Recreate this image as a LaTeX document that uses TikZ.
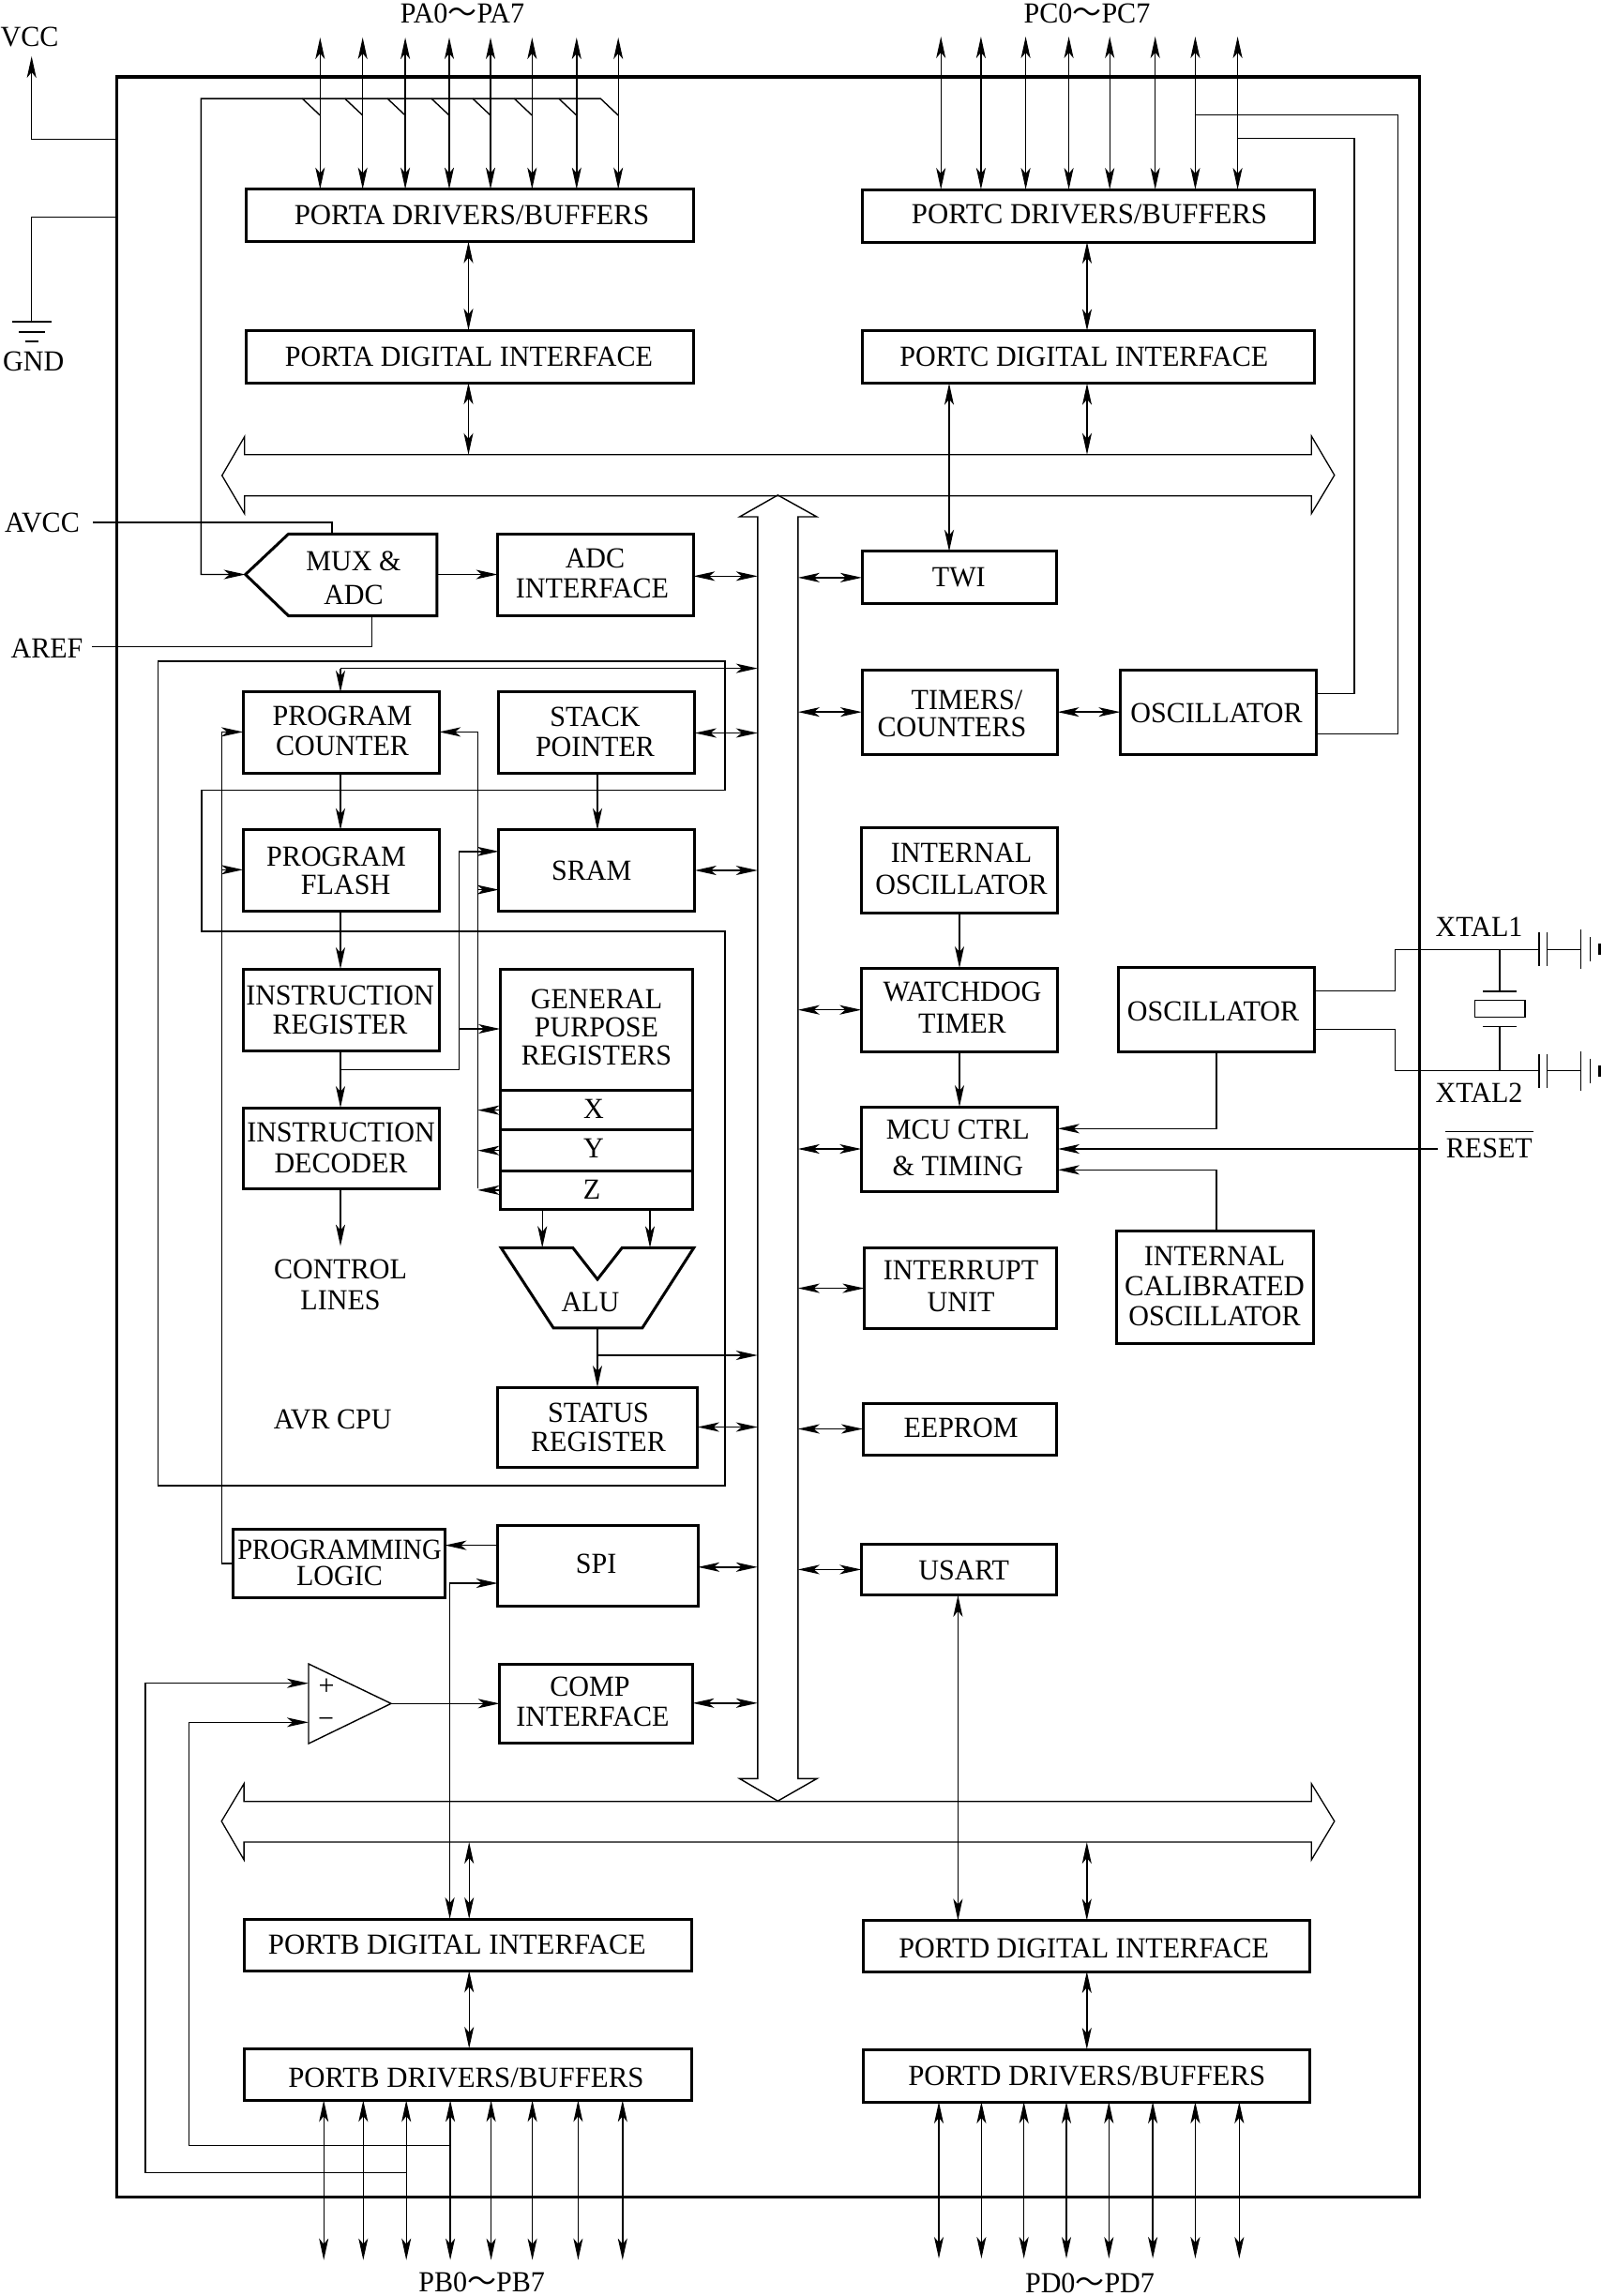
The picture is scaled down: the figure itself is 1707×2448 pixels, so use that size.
\documentclass[tikz,border=0pt]{standalone}
\usepackage{fontspec}
\setmainfont{Liberation Serif}[FakeStretch=0.97]
\newfontfamily\cjk{Noto Sans CJK SC}
\usetikzlibrary{arrows.meta,calc}
\tikzset{
  >={Stealth[length=11.5pt,width=5pt,inset=3pt]},
  box/.style={draw=black,line width=1.5pt,inner sep=0pt,outer sep=0pt},
  frameline/.style={draw=black,line width=1.8pt},
  wire/.style={draw=black,line width=0.7pt},
  bus/.style={draw=black,line width=0.65pt},
  car/.style={wire,->},
  cbi/.style={wire,<->},
  lbl/.style={font=\fontsize{15.5}{#1}\selectfont,align=center,inner sep=0pt,outer sep=0pt},
  lbl/.default=16
}
\newcommand{\wider}[1]{\scalebox{1.025}[1]{#1}}
\newcommand{\bx}[5]{%
  \pgfmathsetmacro{\bxw}{(#4-#2)/2}%
  \pgfmathsetmacro{\bxh}{(#5-#3)/2}%
  \pgfmathsetmacro{\bxcx}{(#4+#2)/2}%
  \pgfmathsetmacro{\bxcy}{(#5+#3)/2}%
  \node[box,minimum width=\bxw pt,minimum height=\bxh pt] (#1) at (\bxcx,\bxcy) {};}
\begin{document}
\begin{tikzpicture}[x=0.5pt,y=-0.5pt]
\useasboundingbox (0,0) rectangle (1707,2448);
% outer frame
\draw[frameline] (124.5,81.7) rectangle (1513.6,2342.6);

% boxes
\bx{pad}{262.2}{201.6}{739.8}{257.6}
\bx{pai}{262.2}{352}{739.8}{408}
\bx{adci}{530.6}{569.3}{739.3}{656.6}
\bx{pc}{259.1}{737.9}{468.2}{824}
\bx{sp}{531.8}{737.9}{740.8}{824}
\bx{pf}{259.1}{884.8}{468.2}{971}
\bx{sram}{531.8}{884.8}{740.8}{971}
\bx{ir}{259.1}{1033}{468.2}{1120.2}
\bx{id}{259.1}{1181}{468.2}{1267}
\bx{gpr}{533.2}{1033}{738.4}{1162.7}
\bx{rx}{533.2}{1162.7}{738.4}{1204.6}
\bx{ry}{533.2}{1204.6}{738.4}{1248.8}
\bx{rz}{533.2}{1248.8}{738.4}{1289}
\bx{sr}{530.8}{1479}{743.7}{1564}
\bx{pl}{248.6}{1630.3}{474.4}{1703.3}
\bx{spi}{530.8}{1626}{744.1}{1712.5}
\bx{cmpi}{532.7}{1774.7}{738.4}{1858}
\bx{pbi}{260.1}{2046}{737.4}{2101.3}
\bx{pbd}{260.1}{2184}{737.4}{2239.3}
\bx{pcd}{919}{202}{1401.5}{258}
\bx{pci}{919}{352.6}{1401.5}{408.7}
\bx{twi}{919}{587.8}{1126.8}{643.9}
\bx{tc}{919}{714.3}{1127.5}{804}
\bx{osca}{1194.4}{714.3}{1403}{804}
\bx{iosc}{918.3}{882.4}{1127.6}{973}
\bx{wdt}{918.3}{1032}{1127.6}{1121.4}
\bx{mcu}{918.3}{1180}{1127.9}{1270}
\bx{oscb}{1192}{1031.7}{1401.2}{1121.7}
\bx{ical}{1190.2}{1312.3}{1400.5}{1432.3}
\bx{intu}{921.4}{1330.6}{1126}{1416.5}
\bx{eep}{920}{1496}{1126}{1551}
\bx{usart}{918.3}{1646}{1126}{1700.8}
\bx{pdi}{920}{2047.5}{1396}{2102}
\bx{pdd}{920}{2185}{1396}{2241}

% MUX, ALU, comparator outlines
\coordinate (muxtip) at (261.7,612.5);
\coordinate (muxe) at (465.8,612.5);
\coordinate (muxt) at (354,569.3);
\coordinate (muxb) at (396.4,656.6);
\draw[box] (muxtip) -- (307.6,569.3) -- (465.8,569.3) -- (465.8,656.6) -- (307.6,656.6) -- cycle;
\coordinate (alua) at (578.2,1330.3);
\coordinate (alub) at (693,1330.3);
\coordinate (aluo) at (637,1415.9);
\draw[box] (534.2,1330.3) -- (610.7,1330.3) -- (637,1364) -- (663.3,1330.3) -- (739.8,1330.3) -- (684.8,1415.9) -- (590.1,1415.9) -- cycle;
\coordinate (cmpp) at (329,1794.7);
\coordinate (cmpm) at (329,1836.3);
\coordinate (cmpo) at (417,1816.3);
\draw[wire] (329,1774) -- (329,1859) -- (cmpo) -- cycle;

% buses
\draw[bus] (236.7,507) -- (260.7,465.6) -- (260.7,484.8) -- (1398.3,484.8) -- (1398.3,465) -- (1422.8,506.6) -- (1398.3,547.5) -- (1398.3,528.8) -- (260.7,528.8) -- (260.7,547.7) -- cycle;
\draw[bus] (236.2,1941.8) -- (260.1,1901.8) -- (260.1,1920.7) -- (1398.3,1920.7) -- (1398.3,1901.8) -- (1422.8,1941.8) -- (1398.3,1982.9) -- (1398.3,1964) -- (260.1,1964) -- (260.1,1982.9) -- cycle;
\coordinate (busL) at (807.8,1200);
\coordinate (busR) at (850.8,1200);
\coordinate (hbU) at (0,484.8);
\coordinate (hbL) at (0,1964);
\draw[wire] (829.3,527.9) -- (870.9,551) -- (850.8,551) -- (850.8,1896.4) -- (870.9,1896.4) -- (829.3,1920.2) -- (788.6,1896.4) -- (807.8,1896.4) -- (807.8,551) -- (788.6,551) -- cycle;

% VCC, GND
\node[lbl] (vcc) at (31.6,39) {VCC};
\coordinate (vcctip) at (33.7,60);
\draw[car] (124.5,148.3) -- (33.7,148.3) -- (vcctip);
\coordinate (gndt) at (33.7,343);
\draw[wire] (124.5,231.4) -- (33.7,231.4) -- (gndt);
\draw[wire] (12.8,343) -- (54.6,343) (20.4,354) -- (48,354) (26.5,364) -- (40.8,364);
\node[lbl] (gnd) at (35.7,385.7) {GND};

% port A
\node[lbl] (patxt) at (493,14) {PA0{\cjk ～}PA7};
\foreach \i/\x in {0/341.3,1/386.7,2/432.1,3/479,4/523,5/567.3,6/614.8,7/659.2}{
  \coordinate (pa\i) at (\x,40);
  \draw[cbi] (pa\i) -- (pa\i |- pad.north);
}
\foreach \x in {341.3,386.7,432.1,479,523,567.3,614.8}{
  \draw[wire] ({\x-19},105.1) -- (\x,123);
}
\draw[car] (659.2,123) -- (640.3,105.1) -- (214.3,105.1) -- (214.3,612.5) -- (muxtip);
\draw[cbi] (499.5,0 |- pad.south) -- (499.5,0 |- pai.north);
\draw[cbi] (499.5,0 |- pai.south) -- (499.5,0 |- hbU);

% analog
\node[lbl] (avcc) at (45,557) {AVCC};
\coordinate (avccs) at (99,557);
\draw[wire] (avccs) -| (muxt);
\node[lbl] (aref) at (50,691) {AREF};
\coordinate (arefs) at (98,689.6);
\draw[wire] (arefs) -| (muxb);
\draw[car] (muxe) -- (muxe -| adci.west);
\draw[cbi] (0,614.3 -| adci.east) -- (0,614.3 -| busL);

% AVR CPU outline
\draw[wire] (168.3,705) -- (772.9,705) -- (772.9,842.4) -- (215,842.4) -- (215,992.8) -- (772.9,992.8) -- (772.9,1584) -- (168.3,1584) -- cycle;

% CPU connectors
\draw[car] (363,712.6) -- (363,0 |- pc.north);
\draw[car] (363,712.6) -- (807.8,712.6);
\draw[car] (363,0 |- pc.south) -- (363,0 |- pf.north);
\draw[car] (363,0 |- pf.south) -- (363,0 |- ir.north);
\draw[car] (363,0 |- ir.south) -- (363,0 |- id.north);
\coordinate (ctlend) at (363,1328.6);
\draw[car] (363,0 |- id.south) -- (ctlend);
\draw[car] (637,0 |- sp.south) -- (637,0 |- sram.north);
\draw[cbi] (0,781.5 -| sp.east) -- (0,781.5 -| busL);
\draw[cbi] (0,928 -| sram.east) -- (0,928 -| busL);
\draw[cbi] (0,1521.5 -| sr.east) -- (0,1521.5 -| busL);
% index register bus
\draw[car] (509.3,1267) -- (509.3,780.4) -- (0,780.4 -| pc.east);
\draw[car] (509.3,948.6) -- (0,948.6 -| sram.west);
\draw[car] (rx.west) -- (509.3,0 |- rx.west);
\draw[car] (ry.west) -- (509.3,0 |- ry.west);
\draw[car] (rz.west) -- (509.3,0 |- rz.west);
% data from IR
\draw[car] (363,1140.3) -- (489.2,1140.3) -- (489.2,907.8) -- (0,907.8 -| sram.west);
\draw[car] (489.2,1097) -- (0,1097 -| gpr.west);
% ALU
\draw[car] (578.2,0 |- rz.south) -- (alua);
\draw[car] (693,0 |- rz.south) -- (alub);
\draw[car] (aluo) -- (637,0 |- sr.north);
\draw[car] (637,1445) -- (807.8,1445);
% programming logic
\draw[car] (pl.west) -- (236.2,0 |- pl.west) -- (236.2,780.4) -- (0,780.4 -| pc.west);
\draw[car] (236.2,927.3) -- (0,927.3 -| pf.west);
\draw[car] (0,1647.6 -| spi.west) -- (0,1647.6 -| pl.east);
\draw[cbi] (0,1670.8 -| spi.east) -- (0,1670.8 -| busL);
\draw[cbi] (0,1688 -| spi.west) -- (479.6,1688) -- (479.6,0 |- pbi.north);
% comparator
\draw[car] (cmpo) -- (0,1816.3 -| cmpi.west);
\draw[cbi] (0,1815.8 -| cmpi.east) -- (0,1815.8 -| busL);
\draw[car] (433.2,2316.6) -- (154.9,2316.6) -- (154.9,1794.7) -- (cmpp);
\draw[car] (480,2287.4) -- (201.3,2287.4) -- (201.3,1836.3) -- (cmpm);
\node[lbl] (plus) at (348,1798.5) {+};
\node[lbl] (minus) at (347.6,1836.9) {−};

% port B
\draw[cbi] (500.2,0 |- hbL) -- (500.2,0 |- pbi.north);
\draw[cbi] (500.2,0 |- pbi.south) -- (500.2,0 |- pbd.north);
\foreach \i/\x in {0/345.2,1/387.3,2/433.2,3/480.1,4/523.6,5/567.6,6/616.4,7/663.8}{
  \coordinate (pb\i) at (\x,2409.6);
  \draw[cbi] (pb\i |- pbd.south) -- (pb\i);
}
\node[lbl] (pbtxt) at (513.6,2433) {PB0{\cjk ～}PB7};

% port C
\node[lbl] (pctxt) at (1159,14) {PC0{\cjk ～}PC7};
\foreach \i/\x in {0/1003.2,1/1045.9,2/1093.6,3/1139.6,4/1183.2,5/1231.7,6/1274.4,7/1319.6}{
  \coordinate (pc\i) at (\x,39);
  \draw[cbi] (pc\i) -- (pc\i |- pcd.north);
}
\draw[wire] (1274.4,122.4) -- (1490.4,122.4) -- (1490.4,782.7) -- (0,782.7 -| osca.east);
\draw[wire] (1319.6,147.4) -- (1444,147.4) -- (1444,739.3) -- (0,739.3 -| osca.east);
\draw[cbi] (1159,0 |- pcd.south) -- (1159,0 |- pci.north);
\draw[cbi] (1159,0 |- pci.south) -- (1159,0 |- hbU);
\draw[cbi] (1012,0 |- pci.south) -- (1012,0 |- twi.north);

% right column
\draw[cbi] (busR |- twi.west) -- (twi.west);
\draw[cbi] (busR |- tc.west) -- (tc.west);
\draw[cbi] (tc.east) -- (osca.west);
\draw[cbi] (busR |- wdt.west) -- (wdt.west);
\draw[cbi] (busR |- mcu.west) -- (mcu.west);
\draw[cbi] (busR |- intu.west) -- (intu.west);
\draw[cbi] (busR |- eep.west) -- (eep.west);
\draw[cbi] (busR |- usart.west) -- (usart.west);
\draw[car] (1023,0 |- iosc.south) -- (1023,0 |- wdt.north);
\draw[car] (1023,0 |- wdt.south) -- (1023,0 |- mcu.north);
\draw[car] (1297,0 |- oscb.south) -- (1297,1203.3) -- (0,1203.3 -| mcu.east);
\draw[car] (1297,0 |- ical.north) -- (1297,1247.3) -- (0,1247.3 -| mcu.east);
\coordinate (rsts) at (1532.8,1225);
\draw[car] (rsts) -- (mcu.east |- rsts);
\draw[cbi] (1021.4,0 |- usart.south) -- (1021.4,0 |- pdi.north);

% crystal
\coordinate (xa) at (1640.8,1012.3);
\coordinate (xb) at (1640.8,1141.7);
\draw[wire] (0,1056.7 -| oscb.east) -- (1487.5,1056.7) -- (1487.5,1012.3) -- (xa);
\draw[wire] (0,1097.3 -| oscb.east) -- (1487.5,1097.3) -- (1487.5,1141.7) -- (xb);
\foreach \yy/\o in {1012.3/0,1141.7/1}{
  \draw[wire] (1640.8,\yy-18) -- (1640.8,\yy+18);
  \draw[wire] (1649.4,\yy-18) -- (1649.4,\yy+18);
  \draw[wire] (1649.4,\yy) -- (1685.4,\yy);
  \draw[wire] (1685.4,\yy-21) -- (1685.4,\yy+21);
  \draw[wire] (1695.4,\yy-13) -- (1695.4,\yy+13);
  \draw[draw=black,line width=1.3pt] (1705.5,\yy-6) -- (1705.5,\yy+6);
}
\draw[wire] (1599,1012.3) -- (1599,1057);
\draw[wire] (1581,1057) -- (1617,1057);
\draw[wire] (1572.7,1066.7) rectangle (1626,1084.7);
\draw[wire] (1581,1094.7) -- (1617,1094.7);
\draw[wire] (1599,1094.7) -- (1599,1141.7);
\node[lbl] (xt1) at (1577,988.3) {XTAL1};
\node[lbl] (xt2) at (1577,1165) {XTAL2};
\node[lbl] (rst) at (1587.8,1224) {RESET};
\draw[wire] (1541,1206.7) -- (1634.6,1206.7);

% port D
\draw[cbi] (1158.8,0 |- hbL) -- (1158.8,0 |- pdi.north);
\draw[cbi] (1158.8,0 |- pdi.south) -- (1158.8,0 |- pdd.north);
\foreach \i/\x in {0/1001,1/1046.4,2/1091.7,3/1137,4/1182.3,5/1229.1,6/1274.4,7/1321.3}{
  \coordinate (pd\i) at (\x,2408);
  \draw[cbi] (pd\i |- pdd.south) -- (pd\i);
}
\node[lbl] (pdtxt) at (1162,2434) {PD0{\cjk ～}PD7};

% texts
\node[lbl] (padt) at (503,229.6) {\wider{PORTA DRIVERS/BUFFERS}};
\node[lbl] (pait) at (500,380) {PORTA DIGITAL INTERFACE};
\node[lbl=18] (muxt1) at (377,616) {MUX \&\\ADC};
\node[lbl] (adct) at (631.5,611.7) {\hspace*{3pt}ADC\\INTERFACE};
\node[lbl] (pct) at (365,779.5) {PROGRAM\\COUNTER};
\node[lbl] (spt) at (634.5,780.7) {STACK\\POINTER};
\node[lbl=15] (pft) at (358.6,928.5) {PROGRAM\\\hspace*{10pt}FLASH};
\node[lbl] (sramt) at (630.8,928) {SRAM};
\node[lbl=15.5] (irt) at (362.5,1076.5) {INSTRUCTION\\REGISTER};
\node[lbl=16.5] (idt) at (363.5,1224) {INSTRUCTION\\DECODER};
\node[lbl=15] (gprt) at (636,1095.8) {GENERAL\\PURPOSE\\REGISTERS};
\node[lbl] (rxt) at (633,1182) {X};
\node[lbl] (ryt) at (633,1224.7) {Y};
\node[lbl] (rzt) at (631,1268) {Z};
\node[lbl=16.8] (ctlt) at (363,1369.8) {CONTROL\\LINES};
\node[lbl] (alut) at (629.4,1388.3) {ALU};
\node[lbl] (cput) at (354.8,1513.4) {AVR CPU};
\node[lbl=15.5] (srt) at (638,1522) {STATUS\\REGISTER};
\node[lbl=14] (plt) at (362,1666) {\scalebox{0.95}[1]{PROGRAMMING}\\LOGIC};
\node[lbl] (spit) at (635.6,1667) {SPI};
\node[lbl] (cmpt) at (632,1814.7) {\hspace*{-3pt}COMP\\INTERFACE};
\node[lbl] (pbit) at (487.3,2073) {\wider{PORTB DIGITAL INTERFACE}};
\node[lbl] (pbdt) at (496.9,2215) {\wider{PORTB DRIVERS/BUFFERS}};
\node[lbl] (pcdt) at (1161.5,228) {\wider{PORTC DRIVERS/BUFFERS}};
\node[lbl] (pcit) at (1155.8,380.6) {PORTC DIGITAL INTERFACE};
\node[lbl] (twit) at (1022.3,615.8) {TWI};
\node[lbl=14.5] (tct) at (1015,761) {\hspace*{16pt}TIMERS/\\COUNTERS};
\node[lbl] (oscat) at (1297,760) {OSCILLATOR};
\node[lbl=17] (ioscT) at (1025,926) {INTERNAL\\OSCILLATOR};
\node[lbl=17] (wdtt) at (1026,1074.5) {WATCHDOG\\TIMER};
\node[lbl=19.5] (mcut) at (1021.4,1223.5) {MCU CTRL\\\& TIMING};
\node[lbl] (oscbt) at (1293.6,1078.3) {OSCILLATOR};
\node[lbl=16] (icalt) at (1295,1371) {INTERNAL\\\wider{CALIBRATED}\\OSCILLATOR};
\node[lbl=17] (intt) at (1024.5,1371) {INTERRUPT\\UNIT};
\node[lbl] (eept) at (1024.5,1522.8) {EEPROM};
\node[lbl] (usartt) at (1027.7,1674) {USART};
\node[lbl] (pdit) at (1155.7,2077) {PORTD DIGITAL INTERFACE};
\node[lbl] (pddt) at (1158.8,2213) {\wider{PORTD DRIVERS/BUFFERS}};
\end{tikzpicture}
\end{document}
